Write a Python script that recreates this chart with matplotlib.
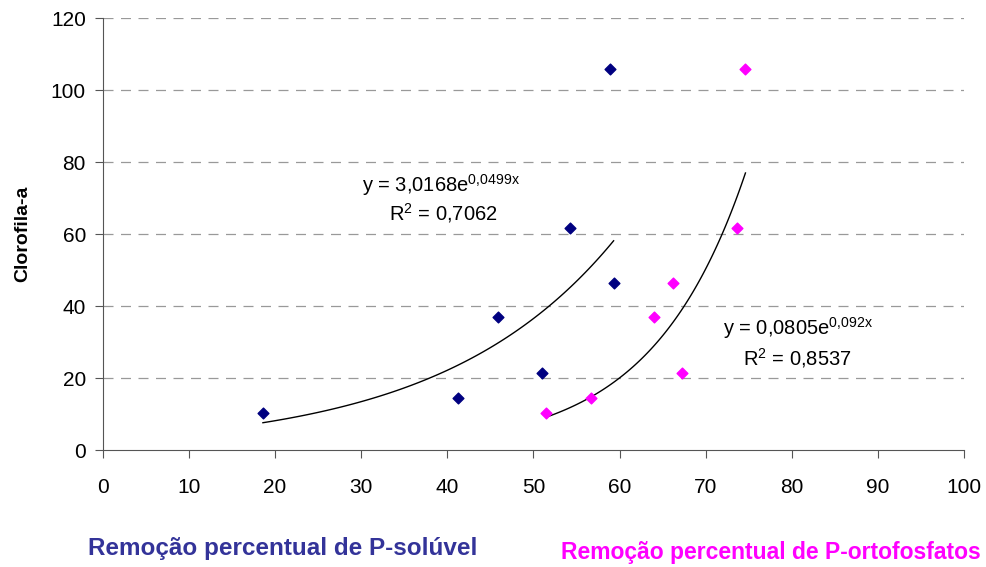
import numpy as np
import matplotlib
matplotlib.use("Agg")
import matplotlib.pyplot as plt

plt.rcParams['font.family'] = ['Liberation Sans', 'DejaVu Sans']
plt.rcParams['mathtext.fontset'] = 'custom'
plt.rcParams['mathtext.rm'] = 'Liberation Sans'

# P-solúvel removal (%) vs clorofila-a
x_sol = [18.6, 41.2, 45.9, 51.0, 54.2, 58.9, 59.3]
y_sol = [10.3, 14.4, 36.9, 21.4, 61.7, 105.8, 46.4]
# P-ortofosfatos removal (%) vs clorofila-a
x_orto = [51.5, 56.7, 64.0, 67.2, 66.2, 73.6, 74.6]
y_orto = [10.3, 14.4, 36.9, 21.4, 46.4, 61.7, 105.8]

# exponential trendline coefficients shown on the chart
a_sol, b_sol = 3.0168, 0.0499
a_orto, b_orto = 0.0805, 0.092

fig = plt.figure(figsize=(9.87, 5.67), dpi=100)
ax = fig.add_axes([0.104, 0.206, 0.873, 0.762])

for y in range(20, 121, 20):
    ax.axhline(y, color='#999999', lw=0.9, ls=(0, (8, 6)), zorder=0)

ax.scatter(x_sol, y_sol, marker='D', s=30, color='#000080', zorder=3)
ax.scatter(x_orto, y_orto, marker='D', s=30, color='#FF00FF', zorder=3)

xs = np.linspace(min(x_sol), max(x_sol), 100)
ax.plot(xs, a_sol * np.exp(b_sol * xs), color='black', lw=1)
xo = np.linspace(min(x_orto), max(x_orto), 100)
ax.plot(xo, a_orto * np.exp(b_orto * xo), color='black', lw=1)

fs = 14.5
ax.text(30.1, 73.6, r'y = 3,0168e$^{\mathregular{0{,}0499x}}$', fontsize=fs, va='center')
ax.text(33.2, 65.8, r'R$^{\mathregular{2}}$ = 0,7062', fontsize=fs, va='center')
ax.text(72.0, 33.9, r'y = 0,0805e$^{\mathregular{0{,}092x}}$', fontsize=fs, va='center')
ax.text(74.3, 25.6, r'R$^{\mathregular{2}}$ = 0,8537', fontsize=fs, va='center')

ax.set_xlim(0, 100)
ax.set_ylim(0, 120)
ax.set_xticks(range(0, 101, 10))
ax.set_yticks(range(0, 121, 20))
ax.tick_params(labelsize=15, length=6, color='#555555')
ax.tick_params(axis='x', pad=14)
ax.tick_params(axis='y', pad=6)
for s in ['top', 'right']:
    ax.spines[s].set_visible(False)
for s in ['left', 'bottom']:
    ax.spines[s].set_color('#555555')
ax.set_ylabel('Clorofila-a', fontsize=14, fontweight='bold', labelpad=14)

fig.text(0.089, 1 - 548 / 567, 'Remoção percentual de P-solúvel', fontsize=17.5,
         fontweight='bold', color='#333399', va='center')
fig.text(0.568, 1 - 553 / 567, 'Remoção percentual de P-ortofosfatos', fontsize=16.5,
         fontweight='bold', color='#FF00FF', va='center')

fig.savefig('out.png', dpi=100)
